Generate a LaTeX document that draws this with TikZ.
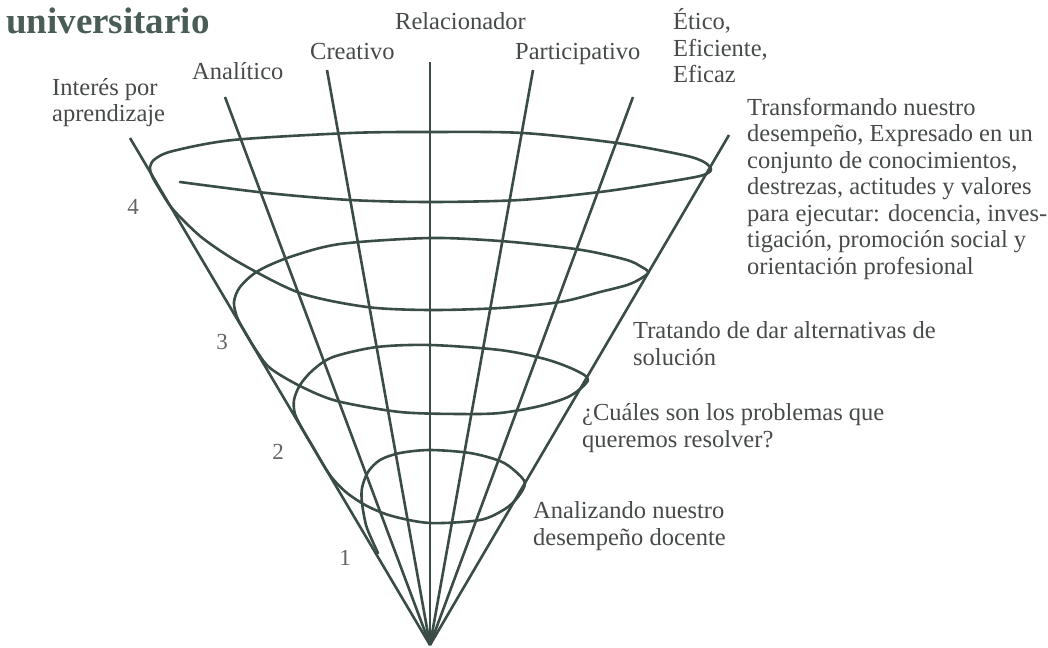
\documentclass[tikz,border=0pt]{standalone}
\usepackage{fontspec}
\setmainfont{Liberation Serif}
\definecolor{conegreen}{RGB}{58,76,70}
\definecolor{inkgrey}{RGB}{70,74,73}
\definecolor{titlegreen}{RGB}{74,92,86}

\begin{document}
\begin{tikzpicture}[x=1pt,y=-1pt,
ray/.style={draw=conegreen,line width=2.6pt},
spiral/.style={draw=conegreen,line width=2.6pt,line join=round,line cap=round},
lbl/.style={text=inkgrey,font=\fontsize{24.5}{26.5}\selectfont,inner sep=0pt,anchor=base west,align=left},
stagenum/.style={text=inkgrey!85,font=\fontsize{23}{23}\selectfont,inner sep=0pt},
]
	\useasboundingbox (0,0) rectangle (1048,647);

	% title
	\node[text=titlegreen,font=\fontsize{37}{37}\selectfont\bfseries,inner sep=0pt,anchor=base west] (title) at (6,34) {universitario};

	% rays of the cone
	\coordinate (apex) at (430,645);
	\foreach \tx/\ty [count=\i] in {130/138, 225/97, 327/70, 430/62, 533/70, 633/97, 729/135}{
		\coordinate (top\i) at (\tx,\ty);
		\draw[ray] (apex) -- (top\i);
	}

	% spiral, from the loose end at level 4 down to the apex
	\draw[spiral] plot[smooth,tension=0.5] coordinates {
		(180,182) (267,193) (350,200) (430,202) (520,200) (600,192) (660,183) (700,176) (711,170)
		(704,162) (683,155) (617,143) (523,133) (430,132) (350,133) (233,140) (173,151) (155,159) (150,167)
		(152,176) (160,190) (171,207) (186,223) (205,240) (240,263) (300,293) (367,307) (430,310) (500,308)
		(560,302) (600,292) (630,284) (648,273)
		(640,266) (627,260) (593,252) (560,247) (500,241) (430,238) (340,244) (290,257) (258,271) (240,287) (234,302)
		(237,317) (245,332) (256,350) (270,368) (300,386) (337,401) (400,412) (460,414) (500,413)
		(540,406) (570,396) (588,380)
		(575,370) (545,359) (500,350) (430,345) (377,347) (333,357) (313,370) (300,385) (294,400) (295,414)
		(303,430) (313,447) (324,466) (333,479) (347,493) (367,506) (392,516) (430,523) (480,520)
		(505,509) (518,497) (525,483)
		(515,471) (500,461) (470,453) (430,450) (400,453) (380,460) (368,472) (362,488) (362,503)
		(366,525) (372,540) (378,553)
	};

	% stage numbers
	\node[stagenum] (n4) at (133,207) {4};
	\node[stagenum] (n3) at (222,342) {3};
	\node[stagenum] (n2) at (278,452) {2};
	\node[stagenum] (n1) at (345,558) {1};

	% traits on top of the rays (anchored at the last line)
	\node[lbl] (interes) at (52,122) {Interés por\\aprendizaje};
	\node[lbl] (analitico) at (192,80) {Analítico};
	\node[lbl] (creativo) at (310,60) {Creativo};
	\node[lbl] (relacionador) at (395,30) {Relacionador};
	\node[lbl] (participativo) at (515,60) {Participativo};
	\node[lbl] (etico) at (673,83) {Ético,\\Eficiente,\\Eficaz};

	% what each turn of the spiral stands for
	\node[lbl] (transformando) at (747,274) {Transformando nuestro\\desempeño, Expresado en un\\conjunto de conocimientos,\\destrezas, actitudes y valores\\para ejecutar: docencia, inves-\\tigación, promoción social y\\orientación profesional};
	\node[lbl] (tratando) at (633,365) {Tratando de dar alternativas de\\solución};
	\node[lbl] (cuales) at (582,447) {¿Cuáles son los problemas que\\queremos resolver?};
	\node[lbl] (analizando) at (533,545) {Analizando nuestro\\desempeño docente};
\end{tikzpicture}
\end{document}
